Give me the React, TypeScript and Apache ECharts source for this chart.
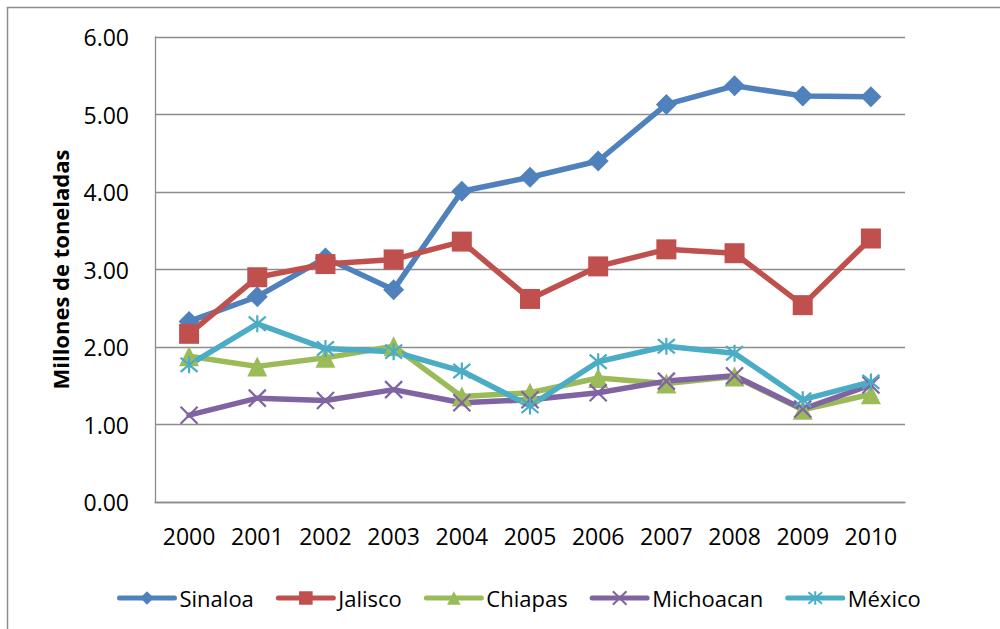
import React, { useEffect, useRef } from "react";
import * as echarts from "echarts";

const years = ["2000", "2001", "2002", "2003", "2004", "2005", "2006", "2007", "2008", "2009", "2010"];
const sinaloa = [2.33, 2.65, 3.15, 2.74, 4.01, 4.19, 4.40, 5.13, 5.37, 5.24, 5.23];
const jalisco = [2.17, 2.90, 3.07, 3.13, 3.36, 2.62, 3.04, 3.26, 3.21, 2.54, 3.40];
const chiapas = [1.88, 1.75, 1.86, 2.01, 1.36, 1.41, 1.60, 1.53, 1.62, 1.19, 1.39];
const michoacan = [1.12, 1.34, 1.31, 1.45, 1.28, 1.32, 1.41, 1.56, 1.63, 1.20, 1.51];
const mexico = [1.77, 2.30, 1.98, 1.94, 1.69, 1.24, 1.81, 2.01, 1.92, 1.32, 1.55];

const FONT = "'Open Sans', 'Noto Sans', sans-serif";

const crossPath = "path://M0,0L20,20M20,0L0,20";
const starPath = "path://M0,0L20,20M20,0L0,20M10,-2L10,22";

export default function App() {
  const ref = useRef<HTMLDivElement>(null);
  useEffect(() => {
    if (!ref.current) return;
    const chart = echarts.init(ref.current, null, { renderer: "svg" });
    const mk = (name: string, data: number[], color: string, symbol: string, size: number, stroke = false) => ({
      name,
      type: "line",
      data,
      symbol,
      symbolSize: size,
      lineStyle: { color, width: 5.5, cap: "round", join: "round" },
      itemStyle: stroke
        ? { color, borderColor: color, borderWidth: 2.2 }
        : { color, borderWidth: 0 },
      emphasis: { disabled: true },
      z: 2,
    });
    chart.setOption({
      animation: false,
      backgroundColor: "#ffffff",
      grid: { left: 155, right: 95, top: 37, bottom: 127, containLabel: false },
      xAxis: {
        type: "category",
        data: years,
        boundaryGap: true,
        axisLine: { show: true, lineStyle: { color: "#8c8c8c", width: 1.3 } },
        axisTick: { show: false },
        axisLabel: { color: "#000", fontSize: 23, fontFamily: FONT, margin: 22, interval: 0 },
      },
      yAxis: {
        type: "value",
        min: 0,
        max: 6,
        interval: 1,
        name: "Millones de toneladas",
        nameLocation: "middle",
        nameGap: 84,
        nameTextStyle: { color: "#000", fontSize: 22, fontWeight: "bold", fontFamily: FONT },
        axisLine: { show: true, lineStyle: { color: "#8c8c8c", width: 1.3 } },
        axisTick: { show: false },
        axisLabel: {
          color: "#000",
          fontSize: 23,
          fontFamily: FONT,
          margin: 26,
          formatter: (v: number) => v.toFixed(2),
        },
        splitLine: { show: true, lineStyle: { color: "#8c8c8c", width: 1.3 } },
      },
      legend: {
        left: 117,
        top: 587,
        padding: 0,
        itemWidth: 55,
        itemHeight: 17,
        itemGap: 22,
        lineStyle: { width: 5 },
        textStyle: { color: "#000", fontSize: 22, fontFamily: FONT },
        data: ["Sinaloa", "Jalisco", "Chiapas", "Michoacan", "México"],
      },
      graphic: [
        { type: "line", shape: { x1: 7, y1: 7.5, x2: 1000, y2: 7.5 }, style: { stroke: "#8c8c8c", lineWidth: 1.5 } },
        { type: "line", shape: { x1: 7.5, y1: 7, x2: 7.5, y2: 629 }, style: { stroke: "#8c8c8c", lineWidth: 1.5 } },
      ],
      series: [
        mk("Sinaloa", sinaloa, "#4F81BD", "diamond", 21),
        mk("Jalisco", jalisco, "#C0504D", "rect", 20),
        mk("Chiapas", chiapas, "#9BBB59", "triangle", 20),
        mk("Michoacan", michoacan, "#8064A2", crossPath, 17, true),
        mk("México", mexico, "#4BACC6", starPath, 17, true),
      ],
    });
    return () => chart.dispose();
  }, []);
  return (
    <div
      ref={ref}
      style={{ position: "fixed", left: 0, top: 0, width: 1000, height: 629 }}
    />
  );
}
